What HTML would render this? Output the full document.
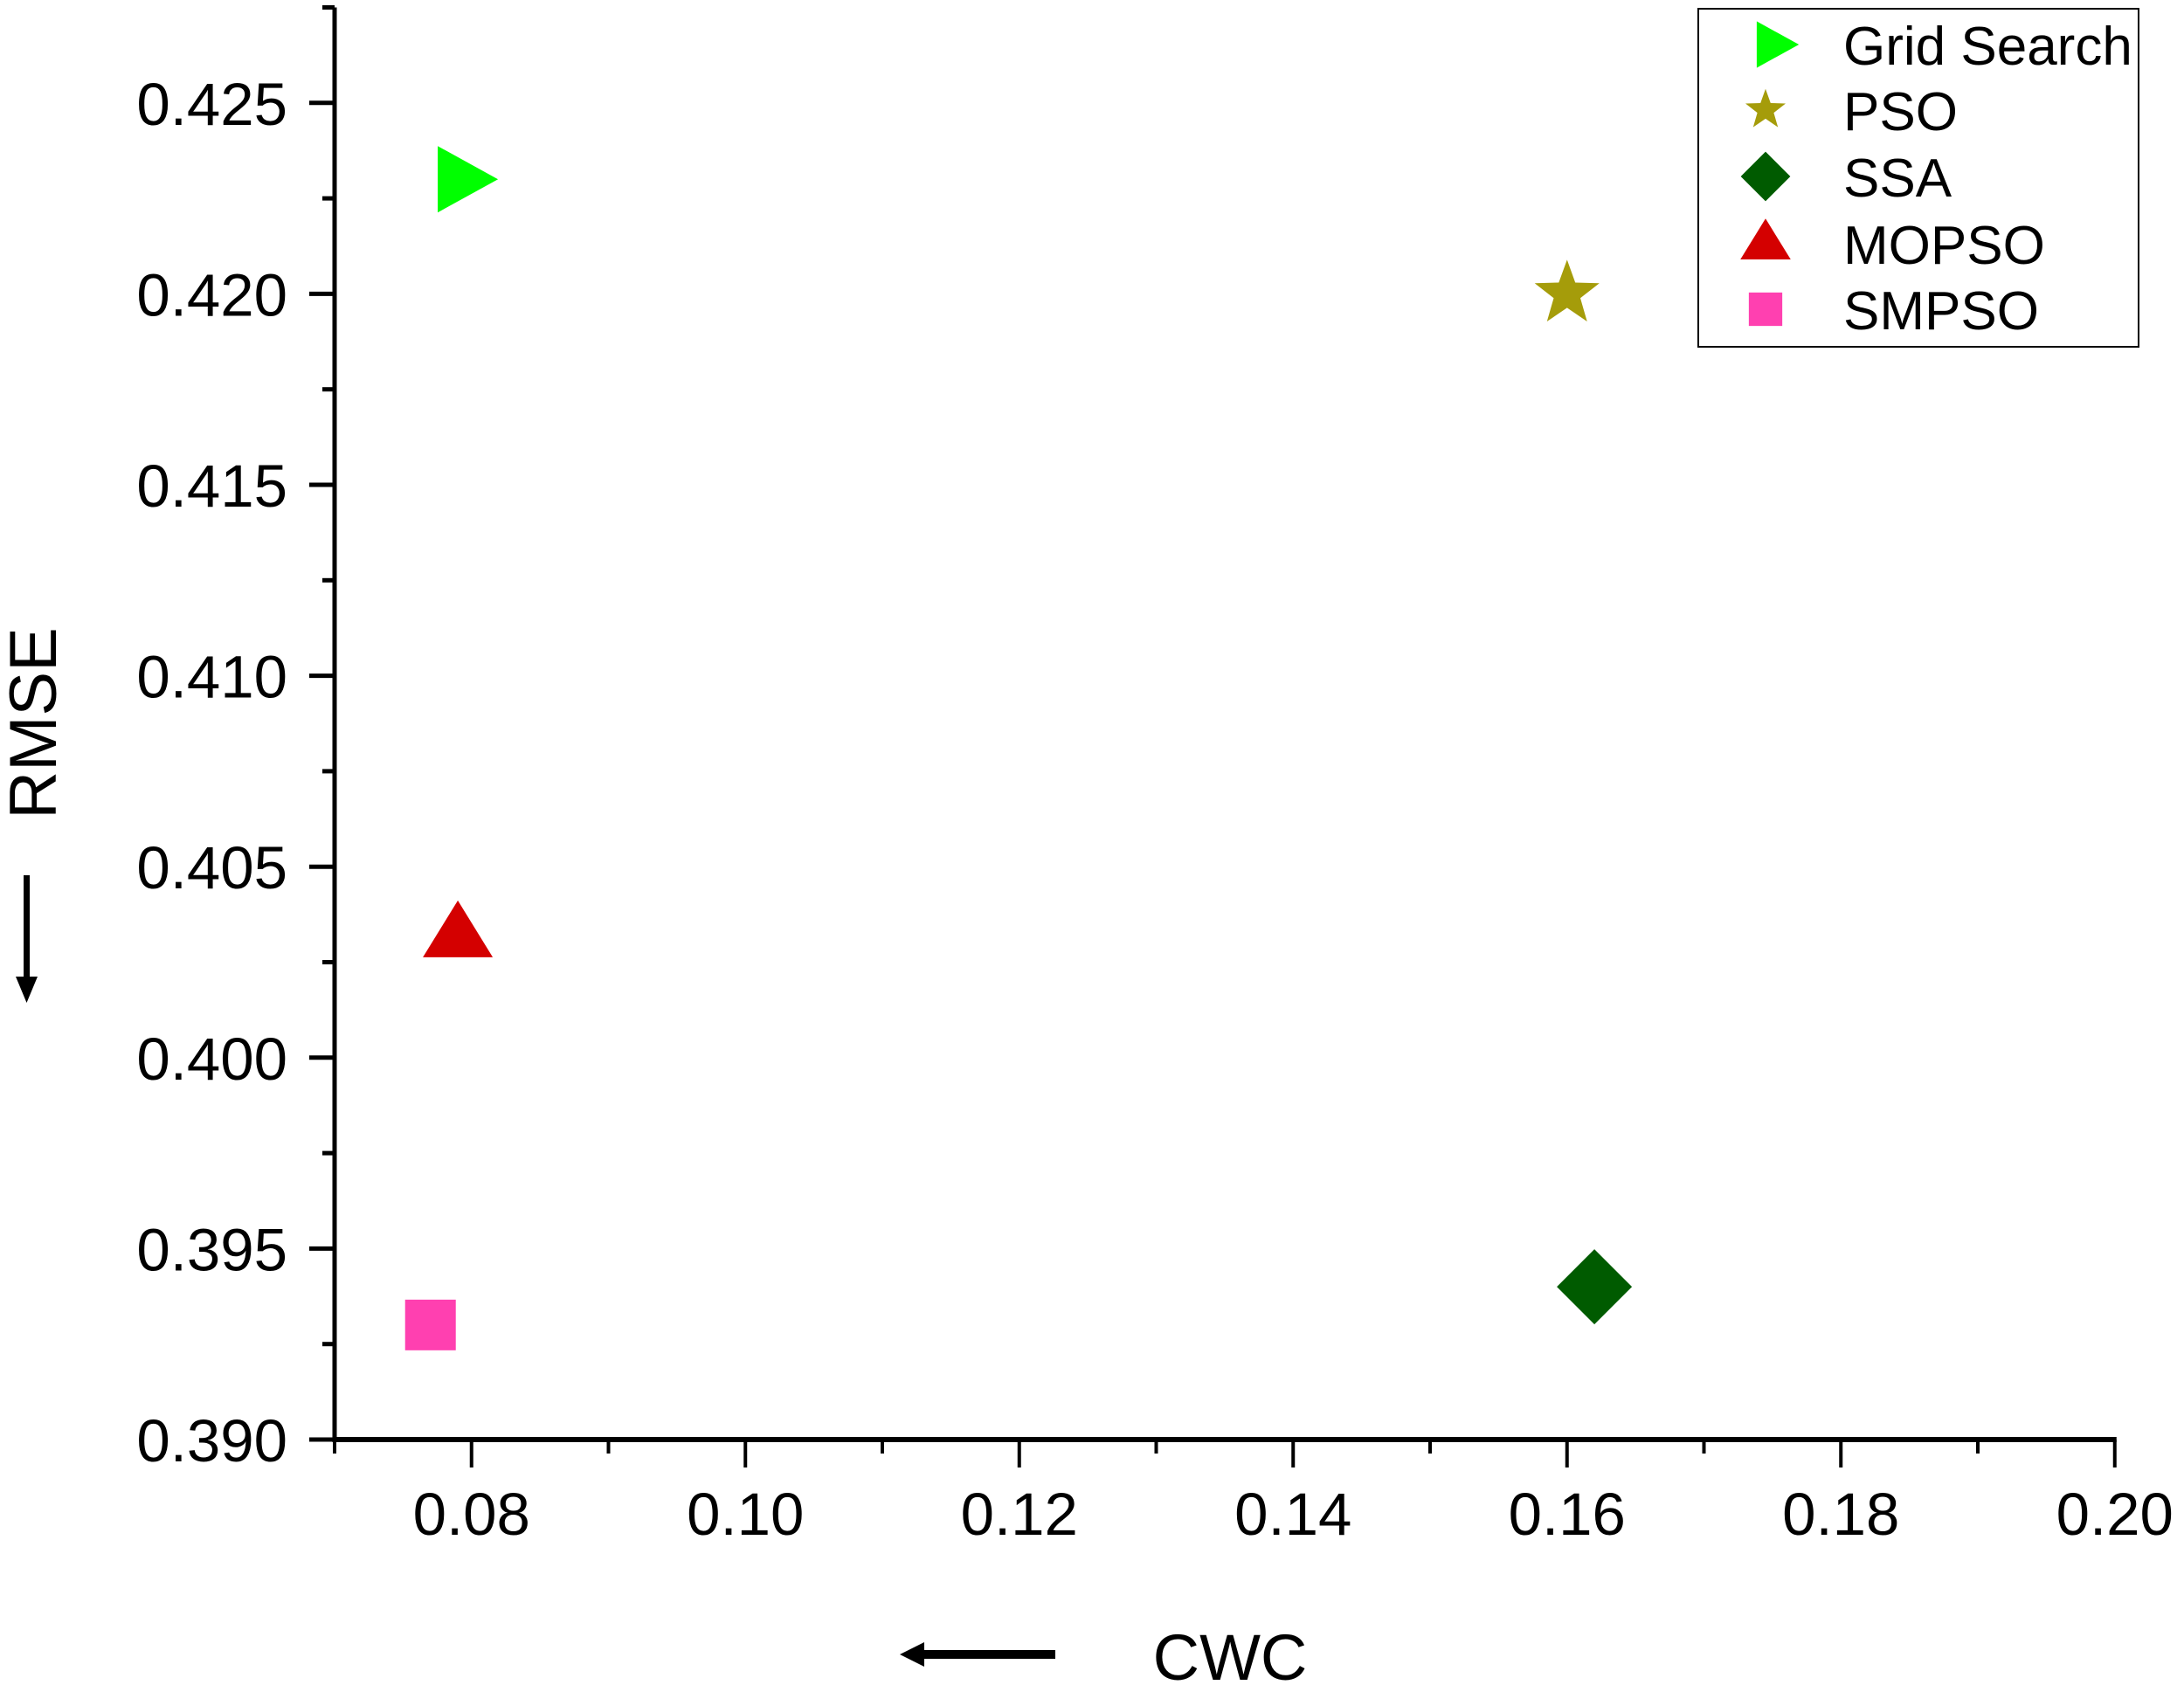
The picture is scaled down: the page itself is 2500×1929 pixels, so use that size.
<!DOCTYPE html>
<html><head><meta charset="utf-8"><style>
html,body{margin:0;padding:0;background:#fff;}
svg{display:block;font-family:"Liberation Sans",Arial,sans-serif;}
</style></head><body>
<svg id="chart" width="2500" height="1929" viewBox="0 0 2500 1929" xmlns="http://www.w3.org/2000/svg">
<g id="axes"></g>
<g id="marks"></g>
<g id="legend">
  <rect x="1944" y="10" width="504" height="387" fill="#fff" stroke="#000" stroke-width="2"/>
</g>
<text transform="translate(64,828) rotate(-90)" text-anchor="middle" font-size="76">RMSE</text>
<g>
  <rect x="27" y="1002" width="7" height="118" fill="#000"/>
  <polygon points="18,1118 43,1118 30.5,1148" fill="#000"/>
</g>
<text x="1408" y="1923" text-anchor="middle" font-size="74">CWC</text>
<g>
  <rect x="1055" y="1889" width="153" height="10" fill="#000"/>
  <polygon points="1058,1880 1058,1908 1030,1894" fill="#000"/>
</g>
</svg>
<script>
const seriesNames = ["Grid Search","PSO","SSA","MOPSO","SMPSO"];
const cwcValues = [0.079, 0.160, 0.162, 0.079, 0.077];
const rmseValues = [0.4230, 0.4200, 0.3940, 0.4032, 0.3930];
const xTicks = [0.08,0.10,0.12,0.14,0.16,0.18,0.20];
const xTickLabels = ["0.08","0.10","0.12","0.14","0.16","0.18","0.20"];
const yTicks = [0.390,0.395,0.400,0.405,0.410,0.415,0.420,0.425];
const yTickLabels = ["0.390","0.395","0.400","0.405","0.410","0.415","0.420","0.425"];

const NS="http://www.w3.org/2000/svg";
const X0=383, XPX=313.5/0.02, XMIN=0.07, XMAX=0.20;
const Y0=1648, YPX=218.6/0.005, YMIN=0.390, YMAX=0.4275;
function sx(v){return X0+(v-XMIN)*XPX;}
function sy(v){return Y0-(v-YMIN)*YPX;}
function mk(tag,attrs,parent){const e=document.createElementNS(NS,tag);for(const k in attrs)e.setAttribute(k,attrs[k]);parent.appendChild(e);return e;}
const axes=document.getElementById('axes');
const marks=document.getElementById('marks');
const legend=document.getElementById('legend');

let l=mk('line',{x1:X0,y1:sy(YMAX),x2:X0,y2:Y0+3,stroke:'#000','stroke-width':5},axes);


l=mk('line',{x1:X0-2,y1:Y0,x2:sx(XMAX)+2,y2:Y0,stroke:'#000','stroke-width':6},axes);


mk('line',{x1:X0,y1:sy(YMAX),x2:X0-14,y2:sy(YMAX),stroke:'#000','stroke-width':5},axes);

xTicks.forEach((v,i)=>{
  const x=sx(v);
  const t=mk('line',{x1:x,y1:Y0,x2:x,y2:Y0+32,stroke:'#000','stroke-width':4},axes);
  
  
  const m=mk('line',{x1:x-XPX*0.01,y1:Y0,x2:x-XPX*0.01,y2:Y0+16,stroke:'#000','stroke-width':4},axes);
  
  
  const tx=mk('text',{x:x,y:1757,'text-anchor':'middle','font-size':69},axes);
  tx.textContent=xTickLabels[i];
  
  
});
yTicks.forEach((v,i)=>{
  const y=sy(v);
  const t=mk('line',{x1:X0,y1:y,x2:X0-29,y2:y,stroke:'#000','stroke-width':5},axes);
  
  
  const ym=sy(v+0.0025);
  if(v+0.0025 < YMAX){
    const m=mk('line',{x1:X0,y1:ym,x2:X0-14,y2:ym,stroke:'#000','stroke-width':5},axes);
    
    
  }
  const tx=mk('text',{x:329,y:y+25,'text-anchor':'end','font-size':69},axes);
  tx.textContent=yTickLabels[i];
  
  
});

const colors=["#00ff00","#a59c0a","#005b00","#d40000","#ff40b0"];
function shape(i,cx,cy,s,parent){
  if(i===0){return mk('polygon',{points:`${cx-23*s},${cy-38*s} ${cx+46*s},${cy} ${cx-23*s},${cy+38*s}`,fill:colors[i]},parent);}
  if(i===1){let p=[];for(let k=0;k < 10;k++){const r=k%2?16*s:39*s;const a=-Math.PI/2+k*Math.PI/5;p.push((cx+r*Math.cos(a)).toFixed(1)+','+(cy+r*Math.sin(a)).toFixed(1));}
    return mk('polygon',{points:p.join(' '),fill:colors[i]},parent);}
  if(i===2){return mk('polygon',{points:`${cx},${cy-43*s} ${cx+43*s},${cy} ${cx},${cy+43*s} ${cx-43*s},${cy}`,fill:colors[i]},parent);}
  if(i===3){return mk('polygon',{points:`${cx},${cy-40*s} ${cx+40*s},${cy+25*s} ${cx-40*s},${cy+25*s}`,fill:colors[i]},parent);}
  return mk('rect',{x:cx-29*s,y:cy-29*s,width:58*s,height:58*s,fill:colors[i]},parent);
}
seriesNames.forEach((n,i)=>{
  const e=shape(i,sx(cwcValues[i]),sy(rmseValues[i]),1,marks);
  
  
});
const legY=[51,126,202,279,354];
const legS=[0.7,0.62,0.66,0.72,0.66];
seriesNames.forEach((n,i)=>{
  const cy=legY[i];
  const e=shape(i,i===0?2027:2021,cy,legS[i],legend);
  
  
  const t=mk('text',{x:2110,y:cy+23,'font-size':62},legend);
  t.textContent=n;
  
  
});
</script>
</body></html>
